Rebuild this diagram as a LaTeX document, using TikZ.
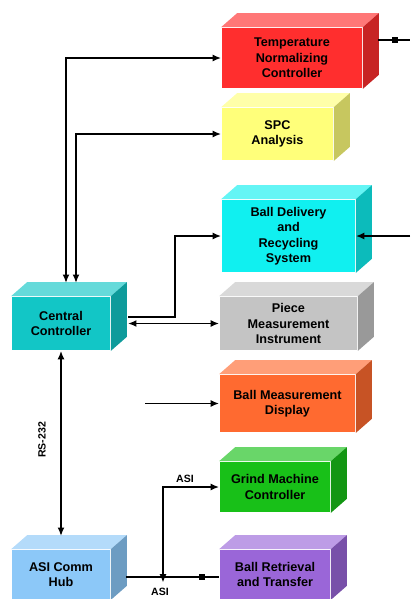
\documentclass[tikz,border=0pt]{standalone}
\usepackage{fontspec}
\setmainfont{Liberation Sans}
\usetikzlibrary{shapes,arrows,arrows.meta}

\definecolor{tempred}{HTML}{FF2E2E}
\definecolor{spcyellow}{HTML}{FFFF7A}
\definecolor{ballcyan}{HTML}{10F0F0}
\definecolor{piecegray}{HTML}{C4C4C4}
\definecolor{disporange}{HTML}{FF6A30}
\definecolor{grindgreen}{HTML}{18C018}
\definecolor{retrpurple}{HTML}{9A66D8}
\definecolor{ctrlteal}{HTML}{12C6C6}
\definecolor{hubblue}{HTML}{8CC8F8}

% top and side faces of a box node
\newcommand{\boxfaces}[2]{%
  \fill[#2!65!white] (#1.north west) -- ([shift={(16,-14)}]#1.north west)
    -- ([shift={(16,-14)}]#1.north east) -- (#1.north east) -- cycle;
  \fill[#2!78!black] (#1.north east) -- ([shift={(16,-14)}]#1.north east)
    -- ([shift={(16,-14)}]#1.south east) -- (#1.south east) -- cycle;
}

\begin{document}
\begin{tikzpicture}[x=0.025cm, y=-0.025cm, line width=1.2pt,
    font=\bfseries\fontsize{9}{11}\selectfont]
  \tikzstyle{block} = [rectangle, align=center, text centered, inner sep=0pt]
  \tikzstyle{line} = [draw, -{Latex[length=6pt,width=5pt]}]
  \tikzstyle{dline} = [draw, {Latex[length=6pt,width=5pt]}-{Latex[length=6pt,width=5pt]}]
  \tikzstyle{tag} = [font=\bfseries\fontsize{7.5}{9}\selectfont, inner sep=1pt]

  \useasboundingbox (0,0) rectangle (410,599);

  % Place nodes
  \node [block, fill=tempred, minimum width=3.5cm, minimum height=1.5cm] (temp) at (292,58)
    {Temperature\\Normalizing\\Controller};
  \node [block, fill=spcyellow, minimum width=2.775cm, minimum height=1.3cm] (spc) at (277.5,134)
    {SPC\\Analysis};
  \node [block, fill=ballcyan, minimum width=3.325cm, minimum height=1.8cm] (ball) at (288.5,236)
    {Ball Delivery\\and\\Recycling\\System};
  \node [block, fill=piecegray, minimum width=3.425cm, minimum height=1.325cm] (piece) at (288.5,323.5)
    {Piece\\Measurement\\Instrument};
  \node [block, fill=disporange, minimum width=3.375cm, minimum height=1.425cm] (disp) at (287.5,403.5)
    {Ball Measurement\\Display};
  \node [block, fill=grindgreen, minimum width=2.75cm, minimum height=1.25cm] (grind) at (275,487)
    {Grind Machine\\Controller};
  \node [block, fill=retrpurple, minimum width=2.75cm, minimum height=1.225cm] (retr) at (275,574.5)
    {Ball Retrieval\\and Transfer};
  \node [block, fill=ctrlteal, minimum width=2.45cm, minimum height=1.325cm] (ctrl) at (61,323.5)
    {Central\\Controller};
  \node [block, fill=hubblue, minimum width=2.45cm, minimum height=1.225cm] (hub) at (61,574.5)
    {ASI Comm\\Hub};

  \boxfaces{temp}{tempred}
  \boxfaces{spc}{spcyellow}
  \boxfaces{ball}{ballcyan}
  \boxfaces{piece}{piecegray}
  \boxfaces{disp}{disporange}
  \boxfaces{grind}{grindgreen}
  \boxfaces{retr}{retrpurple}
  \boxfaces{ctrl}{ctrlteal}
  \boxfaces{hub}{hubblue}

  % Free ends and bends
  \coordinate (ctop1) at (66,283);
  \coordinate (ctop2) at (76,283);
  \coordinate (cright1) at (128,317);
  \coordinate (cright2) at (128,323.5);
  \coordinate (ballbend) at (175,236);
  \coordinate (ballfeed) at (410,236);
  \coordinate (tempside) at (378,40);
  \coordinate (tempout) at (410,40);
  \coordinate (dispfeed) at (145,403.5);
  \coordinate (hubtop) at (61,536);
  \coordinate (hubside) at (126,577);
  \coordinate (asijoin) at (163,577);

  % Draw edges
  \path [dline] (temp.west) -| (ctop1);
  \path [dline] (spc.west) -| (ctop2);
  \path [line] (cright1) -| (ballbend) -- (ball.west);
  \path [line] (ballfeed) -- (ball.east);
  \path [dline] (piece.west) -- (cright2);
  \path [draw, {Square[length=4pt,width=4pt]}-] ([xshift=10]tempside) -- (tempout);
  \draw (tempside) -- ([xshift=10]tempside);
  \path [line] (dispfeed) -- (disp.west);
  \path [dline] (ctrl.south) -- (hubtop);
  \path [draw, -{Square[length=4pt,width=4pt]}] (hubside) -- ([xshift=-10]retr.west |- hubside);
  \draw ([xshift=-10]retr.west |- hubside) -- (retr.west |- hubside);
  \path [dline] ([yshift=-4]asijoin) |- (grind.west);

  % Labels
  \node [tag, rotate=90] (rslabel) at (42,440) {RS-232};
  \node [tag] (asilow) at (160,592) {ASI};
  \node [tag] (asihigh) at (185,479) {ASI};

\end{tikzpicture}
\end{document}
